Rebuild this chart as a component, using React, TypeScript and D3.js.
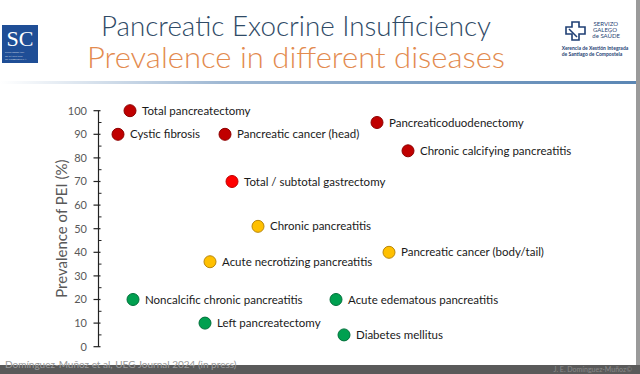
import * as d3 from "d3";

const diseases = [
  "Total pancreatectomy",
  "Cystic fibrosis",
  "Pancreatic cancer (head)",
  "Pancreaticoduodenectomy",
  "Chronic calcifying pancreatitis",
  "Total / subtotal gastrectomy",
  "Chronic pancreatitis",
  "Acute necrotizing pancreatitis",
  "Pancreatic cancer (body/tail)",
  "Noncalcific chronic pancreatitis",
  "Acute edematous pancreatitis",
  "Left pancreatectomy",
  "Diabetes mellitus",
];
// prevalence of PEI, %
const prevalence = [100, 90, 90, 95, 83, 70, 51, 36, 40, 20, 20, 10, 5];
// horizontal slot on the slide (no axis, layout only)
const slot = [6, 3.6, 25, 55.4, 61.6, 26.4, 31.6, 22, 57.8, 6.6, 47.2, 21, 48.8];
const group = ["high", "high", "high", "high", "high", "bright", "mid", "mid", "mid", "low", "low", "low", "low"];

const groupKeys = ["high", "bright", "mid", "low"];
const groupFill = ["#C00000", "#FF0000", "#FFC000", "#00A050"];
const groupStroke = ["#8E0000", "#C00000", "#B8860B", "#00703A"];

const yTicks = [0, 10, 20, 30, 40, 50, 60, 70, 80, 90, 100];

export default function App() {
  const width = 640;
  const height = 374;
  const axisX = 98.5;

  const y = d3.scaleLinear().domain([0, 100]).range([346.7, 110.7]);
  const x = d3.scaleLinear().domain([0, 100]).range([100, 600]);
  const fill = d3.scaleOrdinal<string, string>().domain(groupKeys).range(groupFill);
  const stroke = d3.scaleOrdinal<string, string>().domain(groupKeys).range(groupStroke);
  const minor = d3.range(5, 100, 10);

  const font = "Lato, 'Open Sans', sans-serif";

  return (
    <div style={{ position: "fixed", left: 0, top: 0 }}>
      <svg width={width} height={height} style={{ display: "block" }} fontFamily={font}>
        <defs>
          <linearGradient id="sep" x1="0" x2="1" y1="0" y2="0">
            <stop offset="0" stopColor="#ffffff" />
            <stop offset="0.35" stopColor="#9fb8d3" />
            <stop offset="1" stopColor="#5a86b4" />
          </linearGradient>
        </defs>
        <rect width={width} height={height} fill="#ffffff" />

        {/* header */}
        <rect x={2} y={25} width={36} height={38} fill="#1f4e96" />
        <text x={20} y={46} textAnchor="middle" fill="#fff" fontFamily="'Liberation Serif', serif" fontSize={22}>SC</text>
        <text x={5} y={53} fill="#fff" fontSize={2.6} fontFamily="'Liberation Serif', serif">UNIVERSIDADE</text>
        <text x={5} y={56.5} fill="#fff" fontSize={2.6} fontFamily="'Liberation Serif', serif">DE SANTIAGO</text>
        <text x={5} y={60} fill="#fff" fontSize={2.6} fontFamily="'Liberation Serif', serif">DE COMPOSTELA</text>

        <text x={296} y={36} textAnchor="middle" fill="#2f4a66" fontSize={27} fontWeight={300} textLength={390} lengthAdjust="spacingAndGlyphs">
          Pancreatic Exocrine Insufficiency
        </text>
        <text x={296} y={68} textAnchor="middle" fill="#e38b4f" fontSize={29} fontWeight={300} textLength={418} lengthAdjust="spacingAndGlyphs">
          Prevalence in different diseases
        </text>

        <path d="M566,27 h6 v-5 h7 v5 h6 v7 h-6 v6 h-7 v-6 h-6 z" fill="none" stroke="#1f3f74" strokeWidth={1.6} />
        <path d="M569,29 l8,8" stroke="#1f3f74" strokeWidth={1.6} />
        <text x={618} y={26} textAnchor="end" fill="#1f3f74" fontSize={6}>SERVIZO</text>
        <text x={617} y={32} textAnchor="end" fill="#1f3f74" fontSize={6}>GALEGO</text>
        <text x={620} y={38} textAnchor="end" fill="#1f3f74" fontSize={6}>de SAÚDE</text>
        <text x={595} y={50} textAnchor="middle" fill="#1f3f74" fontSize={5} fontWeight={700}>Xerencia de Xestión Integrada</text>
        <text x={592} y={56} textAnchor="middle" fill="#1f3f74" fontSize={5} fontWeight={700}>de Santiago de Compostela</text>

        <rect x={0} y={81} width={636} height={3} fill="url(#sep)" />

        {/* y axis */}
        <line x1={axisX} x2={axisX} y1={y(0)} y2={y(100)} stroke="#222" strokeWidth={1.2} />
        {yTicks.map((t) => (
          <g key={t}>
            <line x1={axisX - 5} x2={axisX + 2} y1={y(t)} y2={y(t)} stroke="#222" strokeWidth={1.2} />
            <text x={87} y={y(t)} dy="0.35em" textAnchor="end" fill="#595959" fontSize={11}>{t}</text>
          </g>
        ))}
        {minor.map((t) => (
          <line key={t} x1={axisX} x2={axisX + 3} y1={y(t)} y2={y(t)} stroke="#222" strokeWidth={1} />
        ))}
        <text
          transform={`translate(67,${(y(0) + y(100)) / 2}) rotate(-90)`}
          textAnchor="middle"
          fill="#595959"
          fontSize={15}
        >
          Prevalence of PEI (%)
        </text>

        {/* points */}
        {diseases.map((d, i) => (
          <g key={d}>
            <circle cx={x(slot[i])} cy={y(prevalence[i])} r={6} fill={fill(group[i])} stroke={stroke(group[i])} strokeWidth={1} />
            <text x={x(slot[i]) + 12} y={y(prevalence[i])} dy="0.35em" fill="#1a1a1a" fontSize={11.5}>{d}</text>
          </g>
        ))}

        {/* frame + footer */}
        <rect x={636} y={0} width={4} height={height} fill="#9a9a9a" />
        <rect x={0} y={365} width={width} height={9} fill="#5a5a5a" />
        <text x={5} y={368} fill="#9a9a9a" fontSize={10}>Domínguez-Muñoz et al, UEG Journal 2024 (in press)</text>
        <text x={632} y={372} textAnchor="end" fill="#8a8a8a" fontSize={7}>J. E. Domínguez-Muñoz©</text>
      </svg>
    </div>
  );
}
